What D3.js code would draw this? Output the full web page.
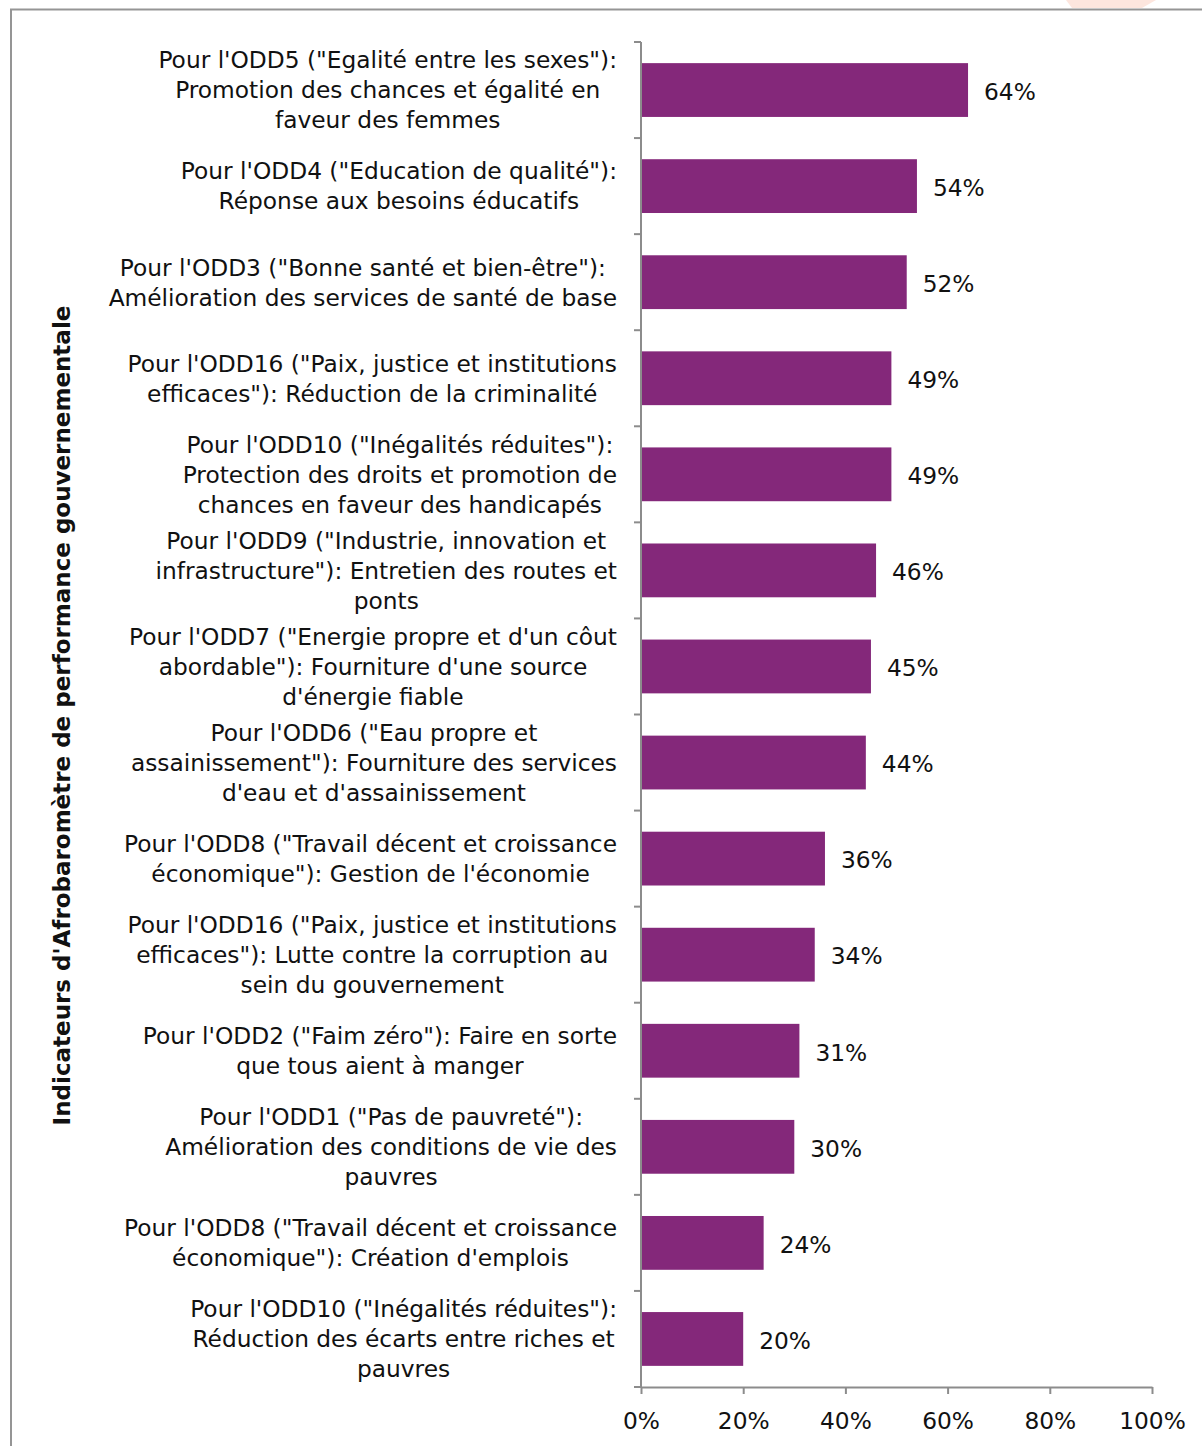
<!DOCTYPE html>
<html>
<head>
<meta charset="utf-8">
<script src="https://cdn.jsdelivr.net/npm/d3@7"></script>
<style>
  html, body { margin: 0; padding: 0; background: #fff; }
  svg { display: block; }
</style>
</head>
<body>
<svg id="chart" width="1202" height="1446"></svg>
<script>
// Categories (one entry per bar, line breaks marked with \n)
const categories = [
  "Pour l'ODD5 (\"Egalité entre les sexes\"):\nPromotion des chances et égalité en\nfaveur des femmes",
  "Pour l'ODD4 (\"Education de qualité\"):\nRéponse aux besoins éducatifs",
  "Pour l'ODD3 (\"Bonne santé et bien-être\"):\nAmélioration des services de santé de base",
  "Pour l'ODD16 (\"Paix, justice et institutions\nefficaces\"): Réduction de la criminalité",
  "Pour l'ODD10 (\"Inégalités réduites\"):\nProtection des droits et promotion de\nchances en faveur des handicapés",
  "Pour l'ODD9 (\"Industrie, innovation et\ninfrastructure\"): Entretien des routes et\nponts",
  "Pour l'ODD7 (\"Energie propre et d'un côut\nabordable\"): Fourniture d'une source\nd'énergie fiable",
  "Pour l'ODD6 (\"Eau propre et\nassainissement\"): Fourniture des services\nd'eau et d'assainissement",
  "Pour l'ODD8 (\"Travail décent et croissance\néconomique\"): Gestion de l'économie",
  "Pour l'ODD16 (\"Paix, justice et institutions\nefficaces\"): Lutte contre la corruption au\nsein du gouvernement",
  "Pour l'ODD2 (\"Faim zéro\"): Faire en sorte\nque tous aient à manger",
  "Pour l'ODD1 (\"Pas de pauvreté\"):\nAmélioration des conditions de vie des\npauvres",
  "Pour l'ODD8 (\"Travail décent et croissance\néconomique\"): Création d'emplois",
  "Pour l'ODD10 (\"Inégalités réduites\"):\nRéduction des écarts entre riches et\npauvres"
];
const values = [64, 54, 52, 49, 49, 46, 45, 44, 36, 34, 31, 30, 24, 20];
const xTicks = [0, 20, 40, 60, 80, 100];
const axisTitle = "Indicateurs d'Afrobaromètre de performance gouvernementale";

const FONT = "'DejaVu Sans', sans-serif";
const FS = 23.3;
const barColor = "#84287a";
const axisColor = "#8c8c8c";

const svg = d3.select("#chart");

// decorative corner shape and frame
svg.append("polygon")
  .attr("points", "1066,0 1156,0 1142,8 1072,8")
  .attr("fill", "#fde6de");
svg.append("path")
  .attr("d", "M11,1446 V9.5 H1202")
  .attr("fill", "none")
  .attr("stroke", "#959595")
  .attr("stroke-width", 2);

const plot = { left: 641, right: 1152, top: 42, bottom: 1387 };

const x = d3.scaleLinear().domain([0, 100]).range([plot.left, plot.right]);
const y = d3.scaleBand().domain(d3.range(categories.length))
  .range([plot.top, plot.bottom]).paddingInner(0.44).paddingOuter(0.22);

// bars
svg.append("g").selectAll("rect").data(values).join("rect")
  .attr("x", x(0))
  .attr("y", (d, i) => y(i))
  .attr("width", d => x(d) - x(0))
  .attr("height", y.bandwidth())
  .attr("fill", barColor);

// value labels
svg.append("g").selectAll("text").data(values).join("text")
  .attr("x", d => x(d) + 16)
  .attr("y", (d, i) => y(i) + y.bandwidth() / 2)
  .attr("dy", "0.42em")
  .attr("font-family", FONT)
  .attr("font-size", FS)
  .attr("fill", "#111")
  .text(d => d + "%");

// category axis (vertical line with boundary ticks)
const step = (plot.bottom - plot.top) / categories.length;
const yAxis = svg.append("g");
yAxis.append("line")
  .attr("x1", plot.left).attr("x2", plot.left)
  .attr("y1", plot.top).attr("y2", plot.bottom)
  .attr("stroke", axisColor).attr("stroke-width", 2);
yAxis.selectAll("line.tick").data(d3.range(categories.length + 1)).join("line")
  .attr("class", "tick")
  .attr("x1", plot.left - 7).attr("x2", plot.left)
  .attr("y1", i => plot.top + i * step).attr("y2", i => plot.top + i * step)
  .attr("stroke", axisColor).attr("stroke-width", 2);

// category labels: block right-aligned, lines centered within the block
const labelRight = 617;
const lineH = 30;
const labelG = svg.append("g");
categories.forEach((c, i) => {
  const lines = c.split("\n");
  const cy = y(i) + y.bandwidth() / 2;
  const t = labelG.append("text")
    .attr("font-family", FONT)
    .attr("font-size", FS)
    .attr("fill", "#111")
    .attr("text-anchor", "middle");
  const spans = lines.map((ln, k) => t.append("tspan")
    .attr("y", cy + (k - (lines.length - 1) / 2) * lineH)
    .attr("dy", "0.36em")
    .text(ln));
  const maxW = d3.max(spans, s => s.node().getComputedTextLength());
  spans.forEach(s => s.attr("x", labelRight - maxW / 2));
});

// value axis
const xAxis = d3.axisBottom(x).tickValues(xTicks).tickFormat(d => d + "%").tickSize(7).tickSizeOuter(0);
const xg = svg.append("g").attr("transform", `translate(0,${plot.bottom})`).call(xAxis);
xg.select(".domain").attr("stroke", axisColor).attr("stroke-width", 2);
xg.selectAll(".tick line").attr("stroke", axisColor).attr("stroke-width", 2);
xg.selectAll(".tick text")
  .attr("font-family", FONT).attr("font-size", FS).attr("fill", "#111")
  .attr("y", 25).attr("dy", "0.71em");

// axis title
svg.append("text")
  .attr("transform", `translate(62,${(plot.top + plot.bottom) / 2 + 1}) rotate(-90)`)
  .attr("text-anchor", "middle")
  .attr("dy", "0.36em")
  .attr("font-family", FONT)
  .attr("font-weight", "bold")
  .attr("font-size", 23)
  .attr("fill", "#111")
  .text(axisTitle);
</script>
</body>
</html>
